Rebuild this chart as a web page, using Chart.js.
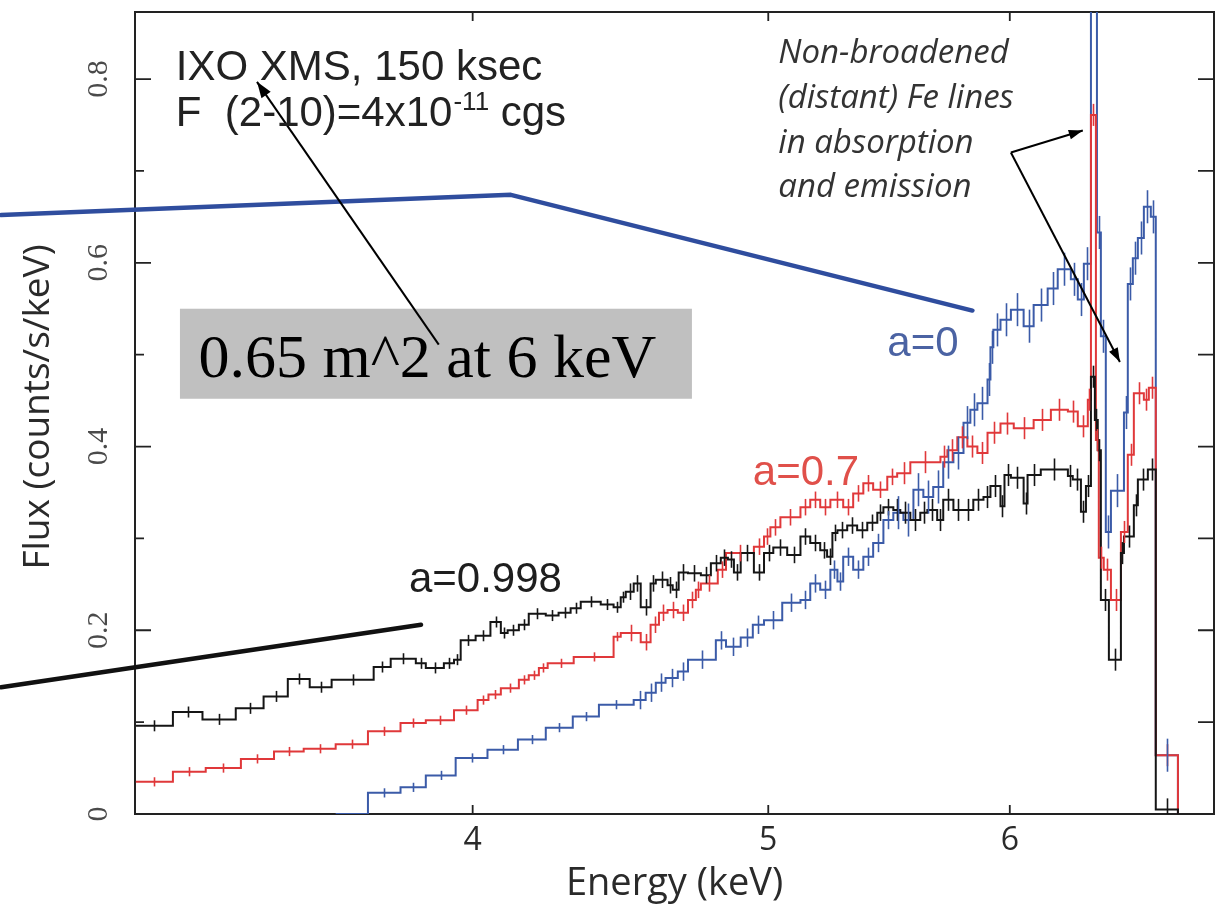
<!DOCTYPE html>
<html>
<head>
<meta charset="utf-8">
<script src="https://cdn.jsdelivr.net/npm/chart.js@4.4.0/dist/chart.umd.min.js"></script>
<style>
html,body{margin:0;padding:0;background:#fff;}
#wrap{width:1220px;height:904px;}
</style>
</head>
<body>
<div id="wrap"><canvas id="spec" width="1220" height="904"></canvas></div>
<script>
// Spectra: bin edges in keV, one flux value (counts/s/keV) per bin
const edgesA998 = [3.102,3.190,3.262,3.345,3.416,3.479,3.537,3.596,3.712,3.760,3.832,3.861,3.914,3.944,3.964,4.009,4.054,4.086,4.107,4.142,
  4.173,4.227,4.268,4.307,4.340,4.406,4.449,4.473,4.490,4.517,4.541,4.575,4.593,4.634,4.652,4.673,4.706,4.752,4.788,4.824,
  4.850,4.872,4.897,4.946,4.984,5.019,5.072,5.123,5.161,5.200,5.227,5.248,5.268,5.307,5.347,5.388,5.429,5.454,5.495,5.524,
  5.566,5.608,5.638,5.680,5.706,5.750,5.794,5.837,5.882,5.913,5.958,5.976,6.005,6.063,6.081,6.142,6.269,6.292,6.331,6.355,
  6.379,6.398,6.412,6.427,6.466,6.525,6.540,6.589,6.609,6.659,6.699,6.812];
const fluxA998 = [0.096,0.111,0.103,0.115,0.128,0.147,0.138,0.146,0.160,0.169,0.164,0.159,0.164,0.168,0.189,0.194,0.209,0.197,0.200,0.206,
  0.218,0.216,0.219,0.224,0.231,0.228,0.225,0.236,0.242,0.251,0.225,0.251,0.255,0.249,0.244,0.263,0.262,0.260,0.273,0.279,
  0.277,0.263,0.284,0.263,0.284,0.290,0.282,0.302,0.295,0.287,0.280,0.306,0.309,0.314,0.309,0.317,0.328,0.334,0.331,0.328,
  0.320,0.328,0.331,0.320,0.342,0.331,0.331,0.342,0.345,0.357,0.335,0.369,0.366,0.338,0.369,0.375,0.368,0.364,0.329,0.357,
  0.476,0.429,0.396,0.233,0.168,0.284,0.302,0.336,0.364,0.375,0.005];

const edgesA07 = [3.102,3.190,3.270,3.358,3.443,3.521,3.607,3.696,3.788,3.861,3.944,4.015,4.048,4.086,4.142,4.173,4.205,4.233,4.317,4.449,
  4.473,4.541,4.575,4.604,4.634,4.670,4.706,4.734,4.752,4.813,4.843,4.946,4.984,5.008,5.046,5.123,5.161,5.200,5.240,5.291,
  5.331,5.372,5.412,5.470,5.511,5.566,5.694,5.724,5.767,5.811,5.855,5.900,5.958,6.018,6.109,6.189,6.269,6.316,6.364,6.379,
  6.403,6.417,6.441,6.476,6.525,6.559,6.589,6.639,6.664,6.699,6.812];
const fluxA07 = [0.035,0.046,0.050,0.060,0.068,0.071,0.076,0.090,0.099,0.102,0.113,0.124,0.130,0.137,0.146,0.151,0.159,0.164,0.171,0.193,
  0.197,0.187,0.206,0.219,0.222,0.219,0.233,0.244,0.251,0.266,0.284,0.291,0.302,0.312,0.323,0.334,0.342,0.334,0.342,0.334,
  0.349,0.360,0.353,0.367,0.371,0.383,0.389,0.396,0.410,0.400,0.393,0.415,0.425,0.420,0.429,0.440,0.438,0.422,0.451,0.761,
  0.407,0.279,0.266,0.233,0.307,0.391,0.458,0.451,0.464,0.064];

const edgesA0 = [3.607,3.696,3.788,3.861,3.949,4.045,4.139,4.227,4.314,4.400,4.517,4.558,4.593,4.627,4.670,4.706,4.806,4.843,4.897,4.942,
  4.984,5.053,5.123,5.161,5.200,5.240,5.268,5.291,5.331,5.372,5.412,5.454,5.495,5.537,5.579,5.621,5.663,5.706,5.750,5.794,
  5.824,5.855,5.900,5.913,5.926,5.958,6.005,6.063,6.109,6.174,6.221,6.283,6.316,6.345,6.379,6.408,6.427,6.451,6.476,6.540,
  6.559,6.584,6.609,6.639,6.674,6.699,6.812];
const fluxA0 = [0,0.023,0.029,0.042,0.061,0.070,0.081,0.094,0.106,0.119,0.124,0.132,0.143,0.148,0.155,0.168,0.189,0.182,0.192,0.206,
  0.211,0.230,0.233,0.251,0.244,0.266,0.253,0.280,0.266,0.280,0.295,0.320,0.328,0.320,0.353,0.345,0.356,0.383,0.393,0.426,
  0.440,0.447,0.473,0.508,0.527,0.538,0.549,0.531,0.554,0.572,0.593,0.582,0.560,0.599,0.900,0.633,0.520,0.307,0.352,0.437,
  0.577,0.605,0.627,0.661,0.650,0.064];

// error bar half-heights, per energy band (upper band edges in keV)
const errBandTop = [4.5, 5.5, 7.0];
const errA998 = [0.006, 0.009, 0.012];
const errA07 = [0.005, 0.009, 0.012];
const errA0 = [0.005, 0.010, 0.018];

// axes
const energyTicks = [4, 5, 6];
const fluxTicks = [0, 0.2, 0.4, 0.6, 0.8];
const fluxTickText = ['0', '0.2', '0.4', '0.6', '0.8'];
const fluxMinorTicks = [0.1, 0.3, 0.5, 0.7];
const energyRange = [3.1, 7.0];
const fluxRange = [0, 0.873];

// annotations, anchored in data units [keV, flux]
const bluePathLine = [[2.802, 0.652], [4.117, 0.674], [5.833, 0.548]];
const blackPathLine = [[2.802, 0.138], [3.847, 0.206]];
const areaBox = [[3.207, 0.550], [4.720, 0.452]];
const areaTextAt = [3.252, 0.476];
const areaArrow = [[3.899, 0.511], [3.399, 0.797]];
const headerAt = [3.197, 0.799, 0.749];
const feNoteLines = ['Non-broadened', '(distant) Fe lines', 'in absorption', 'and emission'];
const feNoteAt = [5.038, 0.818, 0.769, 0.720, 0.672];
const feVertex = [6.005, 0.720];
const feHeads = [[6.340, 0.744], [6.520, 0.492]];
const spinLabels = [['a=0', 5.470, 0.499, '#4b63a3'], ['a=0.7', 4.942, 0.358, '#e0504a'], ['a=0.998', 3.812, 0.242, '#1e1e1e']];

const series = [
  { label: 'a=0.998', edges: edgesA998, flux: fluxA998, err: errA998, color: '#151515' },
  { label: 'a=0.7', edges: edgesA07, flux: fluxA07, err: errA07, color: '#e0383a' },
  { label: 'a=0', edges: edgesA0, flux: fluxA0, err: errA0, color: '#3b5ba8' }
];

function stepPoints(edges, flux) {
  const pts = flux.map((f, i) => ({ x: edges[i], y: f }));
  pts.push({ x: edges[edges.length - 1], y: 0 });
  return pts;
}

function bandValue(e, band) {
  for (let i = 0; i < errBandTop.length; i++) if (e <= errBandTop[i]) return band[i];
  return band[band.length - 1];
}

function arrow(ctx, x0, y0, x1, y1, head) {
  ctx.beginPath(); ctx.moveTo(x0, y0); ctx.lineTo(x1, y1); ctx.stroke();
  const a = Math.atan2(y1 - y0, x1 - x0);
  const w = head * 0.35;
  ctx.beginPath();
  ctx.moveTo(x1, y1);
  ctx.lineTo(x1 - head * Math.cos(a) + w * Math.sin(a), y1 - head * Math.sin(a) - w * Math.cos(a));
  ctx.lineTo(x1 - head * Math.cos(a) - w * Math.sin(a), y1 - head * Math.sin(a) + w * Math.cos(a));
  ctx.closePath(); ctx.fill();
}

// error bars at bin centres
const errorBars = {
  id: 'errorBars',
  afterDatasetsDraw(chart) {
    const { ctx, chartArea: a, scales: { x, y } } = chart;
    ctx.save();
    ctx.beginPath(); ctx.rect(a.left, a.top, a.right - a.left, a.bottom - a.top); ctx.clip();
    series.forEach(s => {
      ctx.strokeStyle = s.color; ctx.lineWidth = 1.6;
      s.flux.forEach((f, i) => {
        if (f <= 0) return;
        const c = Math.sqrt(s.edges[i] * s.edges[i + 1]);
        const e = bandValue(c, s.err);
        const xp = Math.round(x.getPixelForValue(c)) + 0.5;
        ctx.beginPath();
        ctx.moveTo(xp, y.getPixelForValue(f - e));
        ctx.lineTo(xp, y.getPixelForValue(f + e));
        ctx.stroke();
      });
    });
    ctx.restore();
  }
};

// frame, inward ticks, tick labels and axis titles (under the spectra)
const frame = {
  id: 'frame',
  beforeDatasetsDraw(chart) {
    const { ctx, chartArea: a, scales: { x, y } } = chart;
    ctx.save();
    ctx.strokeStyle = '#222'; ctx.lineWidth = 2;
    ctx.strokeRect(a.left, a.top, a.right - a.left, a.bottom - a.top);
    ctx.lineWidth = 1.8;
    ctx.beginPath();
    fluxTicks.concat(fluxMinorTicks).forEach(v => {
      const yp = y.getPixelForValue(v);
      const len = fluxTicks.includes(v) ? 16 : 9;
      ctx.moveTo(a.left, yp); ctx.lineTo(a.left + len, yp);
      ctx.moveTo(a.right, yp); ctx.lineTo(a.right - 16, yp);
    });
    energyTicks.forEach(v => {
      const xp = x.getPixelForValue(v);
      ctx.moveTo(xp, a.bottom); ctx.lineTo(xp, a.bottom - 9);
      ctx.moveTo(xp, a.top); ctx.lineTo(xp, a.top + 9);
    });
    ctx.stroke();

    ctx.fillStyle = '#4a4a4a';
    ctx.font = '30px "Liberation Serif", "Times New Roman", serif';
    ctx.textAlign = 'center'; ctx.textBaseline = 'middle';
    fluxTicks.forEach((v, i) => {
      ctx.save();
      ctx.translate(a.left - 36, y.getPixelForValue(v));
      ctx.rotate(-Math.PI / 2);
      ctx.fillText(fluxTickText[i], 0, 0);
      ctx.restore();
    });

    ctx.fillStyle = '#2a2a2a';
    ctx.font = '32px "Open Sans", sans-serif';
    energyTicks.forEach(v => ctx.fillText(String(v), x.getPixelForValue(v), a.bottom + 27));

    ctx.font = '38px "Open Sans", sans-serif';
    ctx.textBaseline = 'alphabetic';
    ctx.fillText('Energy (keV)', (a.left + a.right) / 2, a.bottom + 81);

    ctx.font = '37px "Open Sans", sans-serif';
    ctx.textBaseline = 'middle';
    ctx.save();
    ctx.translate(38, (a.top + a.bottom) / 2 - 6);
    ctx.rotate(-Math.PI / 2);
    ctx.fillText('Flux (counts/s/keV)', 0, 0);
    ctx.restore();
    ctx.restore();
  }
};

// overlaid notes, lines and arrows
const notes = {
  id: 'notes',
  afterDraw(chart) {
    const { ctx, scales: { x, y } } = chart;
    const P = p => [x.getPixelForValue(p[0]), y.getPixelForValue(p[1])];
    ctx.save();
    ctx.lineCap = 'round'; ctx.lineJoin = 'round';

    ctx.strokeStyle = '#2f4d9e'; ctx.lineWidth = 4.5;
    ctx.beginPath();
    bluePathLine.forEach((p, i) => { const q = P(p); i ? ctx.lineTo(q[0], q[1]) : ctx.moveTo(q[0], q[1]); });
    ctx.stroke();
    ctx.strokeStyle = '#111'; ctx.lineWidth = 4.5;
    ctx.beginPath();
    blackPathLine.forEach((p, i) => { const q = P(p); i ? ctx.lineTo(q[0], q[1]) : ctx.moveTo(q[0], q[1]); });
    ctx.stroke();

    const b0 = P(areaBox[0]), b1 = P(areaBox[1]);
    ctx.fillStyle = '#c0c0c0';
    ctx.fillRect(b0[0], b0[1], b1[0] - b0[0], b1[1] - b0[1]);
    ctx.fillStyle = '#000';
    ctx.font = '62px "Liberation Serif", "Times New Roman", serif';
    ctx.textAlign = 'left'; ctx.textBaseline = 'alphabetic';
    const t = P(areaTextAt);
    ctx.fillText('0.65 m^2 at 6 keV', t[0], t[1]);

    ctx.strokeStyle = '#000'; ctx.fillStyle = '#000'; ctx.lineWidth = 2; ctx.lineCap = 'butt';
    const a0 = P(areaArrow[0]), a1 = P(areaArrow[1]);
    arrow(ctx, a0[0], a0[1], a1[0], a1[1], 16);
    const v = P(feVertex);
    feHeads.forEach(h => { const q = P(h); arrow(ctx, v[0], v[1], q[0], q[1], 14); });

    ctx.fillStyle = '#222';
    ctx.font = '42px "Liberation Sans", Arial, sans-serif';
    const hx = x.getPixelForValue(headerAt[0]);
    ctx.fillText('IXO XMS, 150 ksec', hx, y.getPixelForValue(headerAt[1]));
    const y2 = y.getPixelForValue(headerAt[2]);
    const part1 = 'F  (2-10)=4x10';
    ctx.fillText(part1, hx, y2);
    let cx = hx + ctx.measureText(part1).width;
    ctx.font = '26px "Liberation Sans", Arial, sans-serif';
    ctx.fillText('-11', cx + 1, y2 - 16);
    cx += ctx.measureText('-11').width + 1;
    ctx.font = '42px "Liberation Sans", Arial, sans-serif';
    ctx.fillText(' cgs', cx, y2);

    spinLabels.forEach(l => {
      ctx.fillStyle = l[3];
      ctx.fillText(l[0], x.getPixelForValue(l[1]), y.getPixelForValue(l[2]));
    });

    ctx.fillStyle = '#333';
    ctx.font = 'italic 33px "Open Sans", sans-serif';
    const nx = x.getPixelForValue(feNoteAt[0]);
    feNoteLines.forEach((s, i) => ctx.fillText(s, nx, y.getPixelForValue(feNoteAt[i + 1])));
    ctx.restore();
  }
};

new Chart(document.getElementById('spec'), {
  type: 'line',
  data: {
    datasets: series.map(s => ({
      label: s.label,
      data: stepPoints(s.edges, s.flux),
      borderColor: s.color,
      borderWidth: 2,
      stepped: true,
      fill: false,
      pointRadius: 0
    }))
  },
  options: {
    responsive: false,
    animation: false,
    devicePixelRatio: 1,
    layout: { padding: { left: 135, right: 6, top: 12, bottom: 90 } },
    plugins: { legend: { display: false }, tooltip: { enabled: false } },
    scales: {
      x: { type: 'logarithmic', min: energyRange[0], max: energyRange[1], display: false },
      y: { type: 'linear', min: fluxRange[0], max: fluxRange[1], display: false }
    }
  },
  plugins: [errorBars, frame, notes]
});
</script>
</body>
</html>
